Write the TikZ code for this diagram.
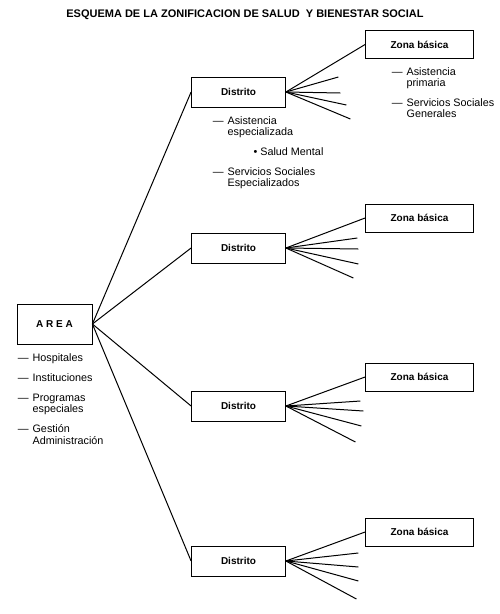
\documentclass[tikz,border=0pt]{standalone}
\usepackage{fontspec}
\setmainfont{Liberation Sans}
\usetikzlibrary{
	positioning,
	calc
}

\begin{document}
\begin{tikzpicture}[
	x = 1pt, y = -1pt,
	box/.style = {
		rectangle, draw, line width=0.8pt,
		font=\bfseries\fontsize{10}{12}\selectfont,
		inner sep=0pt
	},
	distrito/.style = {box, minimum width=94pt, minimum height=30pt},
	zona/.style = {box, minimum width=108pt, minimum height=28pt},
	notes/.style = {
		anchor=base west, inner sep=0pt,
		font=\fontsize{10.8}{11}\selectfont
	},
	link/.style = {line width=1pt}
]
	\useasboundingbox (0,0) rectangle (500,614);

	\node (title) [font=\bfseries\fontsize{11}{12}\selectfont] at (245,14.5)
		{ESQUEMA DE LA ZONIFICACION DE SALUD\ \ Y BIENESTAR SOCIAL};

	\node (area) [box, minimum width=75pt, minimum height=40pt] at (54.5,324) {A R E A};

	\node (d1) [distrito] at (238.5,92) {Distrito};
	\node (d2) [distrito] at (238.5,248) {Distrito};
	\node (d3) [distrito] at (238.5,406) {Distrito};
	\node (d4) [distrito] at (238.5,561) {Distrito};

	\node (z1) [zona] at ([shift={(181,-47.5)}]d1) {Zona básica};
	\node (z2) [zona] at ([shift={(181,-30)}]d2) {Zona básica};
	\node (z3) [zona] at ([shift={(181,-29)}]d3) {Zona básica};
	\node (z4) [zona] at ([shift={(181,-29)}]d4) {Zona básica};

	% texts under the boxes
	\node (areanotes) [notes] at ([shift={(1,17)}]area.south west) {%
		\begin{tabular}[t]{@{}l@{\hspace{4pt}}l@{}}
			— & Hospitales\\[9pt]
			— & Instituciones\\[9pt]
			— & Programas\\
			  & especiales\\[9pt]
			— & Gestión\\
			  & Administración
		\end{tabular}};
	\node (d1notes) [notes] at ([shift={(21.5,17)}]d1.south west) {%
		\begin{tabular}[t]{@{}l@{\hspace{4pt}}l@{}}
			— & Asistencia\\
			  & especializada\\[9pt]
			  & \hspace{26pt}• Salud Mental\\[9pt]
			— & Servicios Sociales\\
			  & Especializados
		\end{tabular}};
	\node (z1notes) [notes] at ([shift={(26.5,16.5)}]z1.south west) {%
		\begin{tabular}[t]{@{}l@{\hspace{4pt}}l@{}}
			— & Asistencia\\
			  & primaria\\[9pt]
			— & Servicios Sociales\\
			  & Generales
		\end{tabular}};

	\foreach \i in {1,...,4} {
		\draw [link] (area.east) -- (d\i.west);
		\draw [link] (d\i.east) -- (z\i.west);
	}

	% open branches of each district
	\foreach \d/\ends in {
		d1/{52.5/-15,54.5/1,60.5/13,64.5/27},
		d2/{71.5/-10,72.5/1,72.5/16,67.5/30},
		d3/{74.5/-5,77.5/5,75.5/20,69.5/36},
		d4/{72.5/-8,72.5/6,72.5/20,70.5/38}}
		\foreach \dx/\dy [count=\k] in \ends {
			\coordinate (\d-\k) at ([shift={(\dx,\dy)}]\d.east);
			\draw [link] (\d.east) -- (\d-\k);
		}
\end{tikzpicture}
\end{document}
